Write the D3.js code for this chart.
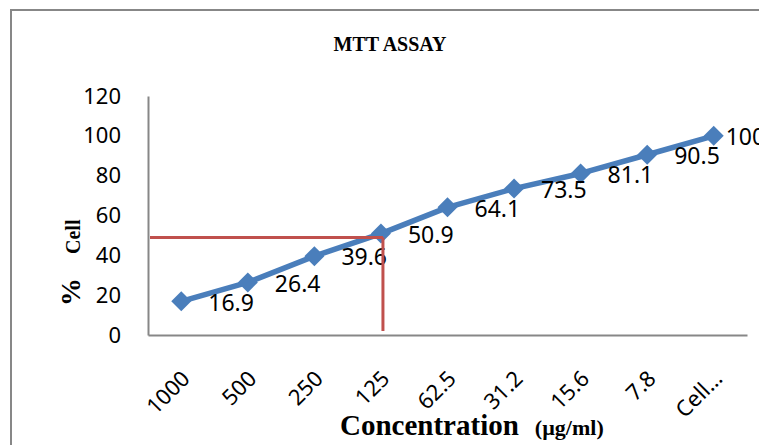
<!DOCTYPE html>
<html>
<head>
<meta charset="utf-8">
<script src="https://cdn.jsdelivr.net/npm/d3@7"></script>
<style>
    body { margin: 0; background: #fff; }
    svg { display: block; }
</style>
</head>
<body>
<div class="chart-container"></div>
<script>
// data
const concentrations = ['1000', '500', '250', '125', '62.5', '31.2', '15.6', '7.8', 'Cell…'];
const cellPercent = [16.9, 26.4, 39.6, 50.9, 64.1, 73.5, 81.1, 90.5, 100];
const yTicks = [0, 20, 40, 60, 80, 100, 120];
const ic50Value = 49;
const ic50Category = '125';

const svg_width = 759;
const svg_height = 445;
const chart_margin = { top: 96, right: 12, bottom: 110, left: 148 };
const chart_width = svg_width - (chart_margin.left + chart_margin.right);
const chart_height = svg_height - (chart_margin.top + chart_margin.bottom);

const svg = d3.select('.chart-container')
    .append('svg')
    .attr('width', svg_width)
    .attr('height', svg_height);

// outer frame
svg.append('rect')
    .attr('x', 11)
    .attr('y', 10)
    .attr('width', svg_width + 20)
    .attr('height', svg_height + 20)
    .style('fill', 'none')
    .style('stroke', '#878787')
    .style('stroke-width', 2);

const this_svg = svg.append('g')
    .attr('transform', `translate(${chart_margin.left},${chart_margin.top})`);

// scales
const xScale = d3.scaleBand()
    .domain(concentrations)
    .range([0, chart_width]);
const yScale = d3.scaleLinear([0, 120], [chart_height, 0]);
const cx = d => xScale(d) + xScale.bandwidth() / 2;

// axes
const yAxis = d3.axisLeft(yScale)
    .tickValues(yTicks)
    .tickSize(0)
    .tickPadding(27);
const yAxisDraw = this_svg.append('g')
    .attr('class', 'y axis')
    .call(yAxis);
yAxisDraw.select('.domain').style('stroke', '#878787').style('stroke-width', 2);
yAxisDraw.selectAll('text')
    .style('font-family', '"Noto Sans", "Open Sans", sans-serif')
    .style('font-size', '22px')
    .style('fill', '#000');

const xAxis = d3.axisBottom(xScale)
    .tickSize(0)
    .tickSizeOuter(0);
const xAxisDraw = this_svg.append('g')
    .attr('class', 'x axis')
    .attr('transform', `translate(0,${chart_height})`)
    .call(xAxis);
xAxisDraw.select('.domain').style('stroke', '#878787').style('stroke-width', 2);
xAxisDraw.selectAll('text')
    .attr('text-anchor', 'end')
    .attr('dy', null)
    .attr('y', null)
    .attr('transform', 'translate(10,45) rotate(-45)')
    .style('font-family', '"Noto Sans", "Open Sans", sans-serif')
    .style('font-size', '22px')
    .style('fill', '#000');

// series line
const line = d3.line()
    .x((d, i) => cx(concentrations[i]))
    .y(d => yScale(d));
this_svg.append('path')
    .datum(cellPercent)
    .attr('d', line)
    .style('fill', 'none')
    .style('stroke', '#4A7EBB')
    .style('stroke-width', 5.5)
    .style('stroke-linejoin', 'round');

// diamond markers
const diamond = d3.symbol().type(d3.symbolSquare).size(200);
this_svg.selectAll('.marker')
    .data(cellPercent)
    .enter()
    .append('path')
    .attr('class', 'marker')
    .attr('d', diamond)
    .attr('transform', (d, i) => `translate(${cx(concentrations[i])},${yScale(d)}) rotate(45)`)
    .style('fill', '#4A7EBB');

// data labels
this_svg.selectAll('.label')
    .data(cellPercent)
    .enter()
    .append('text')
    .attr('class', 'label')
    .attr('x', (d, i) => cx(concentrations[i]) + (i === cellPercent.length - 1 ? 12 : 27))
    .attr('y', d => yScale(d))
    .attr('dy', '0.4em')
    .text(d => d)
    .style('font-family', '"Noto Sans", "Open Sans", sans-serif')
    .style('font-size', '23px')
    .style('fill', '#000');

// IC50 guide lines
const ic50x = cx(ic50Category) + 2;
this_svg.append('line')
    .attr('x1', 2)
    .attr('x2', ic50x)
    .attr('y1', yScale(ic50Value))
    .attr('y2', yScale(ic50Value))
    .style('stroke', '#C0504D')
    .style('stroke-width', 3);
this_svg.append('line')
    .attr('x1', ic50x)
    .attr('x2', ic50x)
    .attr('y1', yScale(ic50Value))
    .attr('y2', yScale(2))
    .style('stroke', '#C0504D')
    .style('stroke-width', 3);

// title
svg.append('text')
    .attr('x', 390)
    .attr('y', 51)
    .attr('text-anchor', 'middle')
    .text('MTT ASSAY')
    .style('font-family', '"Liberation Serif", "Times New Roman", serif')
    .style('font-weight', 'bold')
    .style('font-size', '20px');

// y axis title
const yTitle = svg.append('text')
    .attr('transform', 'translate(80,306) rotate(-90)')
    .style('font-family', '"Liberation Serif", "Times New Roman", serif')
    .style('font-weight', 'bold');
yTitle.append('tspan')
    .text('%')
    .style('font-size', '28px');
yTitle.append('tspan')
    .attr('dx', 24)
    .text('Cell')
    .style('font-size', '20px');

// x axis title
const xTitle = svg.append('text')
    .attr('x', 340)
    .attr('y', 435)
    .style('font-family', '"Liberation Serif", "Times New Roman", serif')
    .style('font-weight', 'bold');
xTitle.append('tspan')
    .text('Concentration')
    .style('font-size', '29px');
xTitle.append('tspan')
    .attr('dx', 16)
    .text('(µg/ml)')
    .style('font-size', '22px');
</script>
</body>
</html>
